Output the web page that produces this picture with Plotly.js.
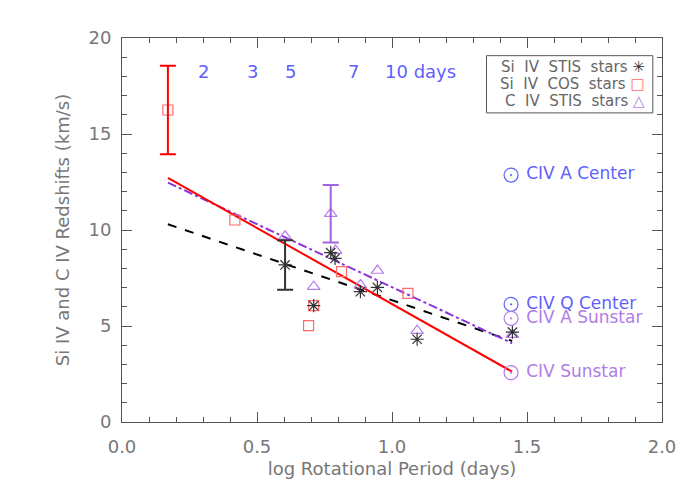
<!DOCTYPE html>
<html>
<head>
<meta charset="utf-8">
<script src="https://cdn.plot.ly/plotly-3.0.1.min.js"></script>
<style>
  body { margin: 0; background: #fff; }
  #chart { width: 700px; height: 500px; }
</style>
</head>
<body>
<div id="chart"></div>
<script>
// Si IV STIS stars (asterisks)
const stisX = [0.604, 0.71, 0.773, 0.789, 0.883, 0.946, 1.093, 1.446];
const stisY = [8.18, 6.06, 8.82, 8.52, 6.79, 7.01, 4.31, 4.68];
// Si IV COS stars (squares)
const cosX = [0.17, 0.418, 0.691, 0.71, 0.813, 1.059];
const cosY = [16.25, 10.52, 5.02, 6.06, 7.83, 6.70];
// C IV STIS stars (triangles)
const civX = [0.604, 0.71, 0.773, 0.791, 0.883, 0.946, 1.093, 1.446];
const civY = [9.67, 7.05, 10.85, 8.93, 7.13, 7.89, 4.76, 4.55];

// points carrying an error bar
const stisErrX = [0.604], stisErrY = [8.18], stisErr = [1.29];
const cosErrX = [0.17], cosErrY = [16.25], cosErr = [2.3];
const civErrX = [0.773], civErrY = [10.85], civErr = [1.5];

// fitted lines
const fitX = [0.17, 1.445];
const cosFitY = [12.72, 2.62];
const stisFitY = [10.30, 4.22];
const civFitY = [12.47, 4.10];

// solar reference values
const sunLabels = ["CIV A Center", "CIV Q Center", "CIV A Sunstar", "CIV Sunstar"];
const sunX = [1.441, 1.441, 1.441, 1.441];
const sunY = [12.86, 6.13, 5.40, 2.57];

// rotation period labels along the top
const periodLabels = ["2", "3", "5", "7"];
const periodX = [0.301, 0.484, 0.625, 0.857];
const periodY = 18.25;

const font = "DejaVu Sans, sans-serif";
const blue = "#5f5fff";
const lilac = "#b07ce8";
const sp = "\u00a0";

function spaced(s) {
    return s.split(" ").join(sp + sp);
}

let traces = [
    {x: fitX, y: stisFitY, mode: "lines", line: {color: "#000", width: 2, dash: "dash"}},
    {x: fitX, y: civFitY, mode: "lines", line: {color: "#8a35dc", width: 2, dash: "dashdot"}},
    {x: fitX, y: cosFitY, mode: "lines", line: {color: "#ff0000", width: 2}},
    {x: cosX, y: cosY, mode: "markers",
        marker: {symbol: "square-open", size: 10, color: "#ff6b6b", line: {width: 1.2}}},
    {x: civX, y: civY, mode: "markers",
        marker: {symbol: "triangle-up-open", size: 11, color: "#b67ee8", line: {width: 1.2}}},
    {x: stisX, y: stisY, mode: "markers",
        marker: {symbol: "asterisk-open", size: 11, color: "#333", line: {width: 1.2}}},
    {x: cosErrX, y: cosErrY, mode: "markers", marker: {size: 1, color: "rgba(0,0,0,0)"},
        error_y: {type: "data", array: cosErr, color: "#ff0000", thickness: 2, width: 8}},
    {x: stisErrX, y: stisErrY, mode: "markers", marker: {size: 1, color: "rgba(0,0,0,0)"},
        error_y: {type: "data", array: stisErr, color: "#333", thickness: 2, width: 8}},
    {x: civErrX, y: civErrY, mode: "markers", marker: {size: 1, color: "rgba(0,0,0,0)"},
        error_y: {type: "data", array: civErr, color: "#a064e0", thickness: 2, width: 8}},
    {x: sunX, y: sunY, mode: "markers+text", text: sunLabels.map(function(s) { return sp + s; }),
        textposition: "middle right", cliponaxis: false,
        textfont: {family: font, size: 17, color: [blue, blue, lilac, lilac]},
        marker: {symbol: "circle-open-dot", size: 14, color: [blue, blue, lilac, lilac], line: {width: 1.2}}},
];
traces.forEach(function(t) { t.showlegend = false; t.hoverinfo = "skip"; });

let annotations = periodLabels.map(function(label, i) {
    return {x: periodX[i], y: periodY, xref: "x", yref: "y", text: label, showarrow: false,
        font: {family: font, size: 18, color: blue}};
});
annotations.push({x: 0.965, y: periodY, xref: "x", yref: "y", xanchor: "left", text: "10 days",
    showarrow: false, font: {family: font, size: 18, color: blue}});

// hand-made legend, symbol on the right
let legendRows = [
    ["Si IV STIS stars", "✳", "#333"],
    ["Si IV COS stars", "□", "#ff6b6b"],
    ["C IV STIS stars", "△", "#b67ee8"],
];
legendRows.forEach(function(row, i) {
    annotations.push({
        xref: "paper", yref: "paper", x: 0.972, y: 0.925 - i * 0.045, xanchor: "right", yanchor: "middle",
        text: spaced(row[0]) + sp + "<span style='color:" + row[2] + "'>" + row[1] + "</span>",
        showarrow: false, font: {family: font, size: 15, color: "#666"},
    });
});

let axisStyle = {
    showline: true, linecolor: "#555", linewidth: 1, mirror: "ticks",
    ticks: "inside", ticklen: 10, tickcolor: "#555", tickwidth: 1,
    showgrid: false, zeroline: false,
    tickfont: {family: font, size: 18, color: "#777"},
};

let layout = {
    width: 700, height: 500,
    margin: {l: 122, r: 38, t: 38, b: 78},
    paper_bgcolor: "#fff", plot_bgcolor: "#fff",
    xaxis: Object.assign({}, axisStyle, {
        range: [0, 2], dtick: 0.5, tickformat: ".1f", ticklabelstandoff: 8,
        minor: {dtick: 0.1, ticks: "inside", ticklen: 5, tickcolor: "#555"},
        title: {text: "log Rotational Period (days)", standoff: 6,
            font: {family: font, size: 18, color: "#777"}},
    }),
    yaxis: Object.assign({}, axisStyle, {
        range: [0, 20], dtick: 5, ticklabelstandoff: 6,
        minor: {dtick: 1, ticks: "inside", ticklen: 5, tickcolor: "#555"},
        title: {text: "Si IV and C IV Redshifts (km/s)", standoff: 14,
            font: {family: font, size: 18, color: "#777"}},
    }),
    annotations: annotations,
    shapes: [{type: "rect", xref: "paper", yref: "paper", x0: 0.675, x1: 0.983, y0: 0.805, y1: 0.954,
        line: {color: "#555", width: 1}}],
};

Plotly.newPlot("chart", traces, layout, {displayModeBar: false, staticPlot: true});
</script>
</body>
</html>
